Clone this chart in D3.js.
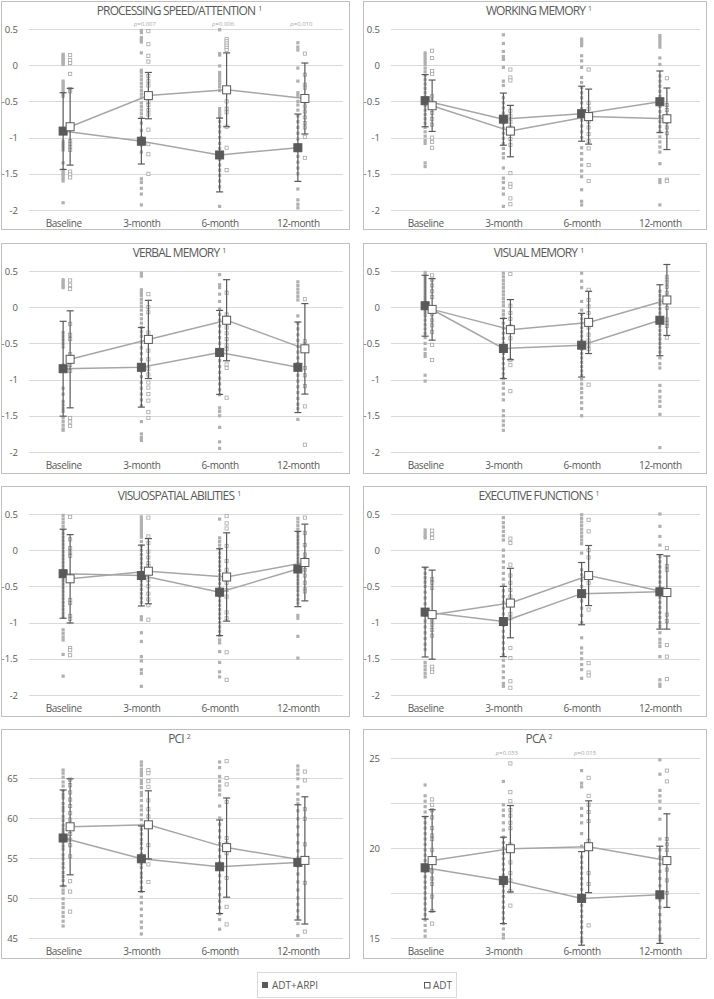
<!DOCTYPE html>
<html>
<head>
<meta charset="utf-8">
<script src="https://cdn.jsdelivr.net/npm/d3@7"></script>
<style>
  body { margin: 0; background: #fff; }
  text { font-family: "Open Sans", sans-serif; fill: #595959; }
</style>
</head>
<body>
<svg id="chart" width="714" height="999"></svg>
<script>
var times = ["Baseline", "3-month", "6-month", "12-month"];

// processing speed / attention
var psMeanArpi = [-0.91, -1.05, -1.24, -1.14];
var psSdArpi = [0.53, 0.315, 0.51, 0.465];
var psMeanAdt = [-0.85, -0.42, -0.34, -0.46];
var psSdAdt = [0.53, 0.32, 0.51, 0.49];
var psDotsArpi = [
  [0.15, 0.13, 0.11, 0.09, 0.07, 0.05, 0.03, 0.01, -0.22, -0.25, -0.28, -0.31, -0.34, -0.37, -0.4, -0.43, -1.05, -1.08, -1.11, -1.14, -1.17, -1.35, -1.45, -1.48, -1.51, -1.54, -1.57, -1.6, -1.9],
  [0.48, 0.45, 0.38, 0.35, 0.32, 0.17, -0.07, -0.1, -0.15, -0.2, -0.25, -0.3, -0.35, -0.4, -0.45, -0.52, -0.57, -0.62, -0.67, -0.72, -0.8, -0.9, -1.0, -1.1, -1.2, -1.57, -1.62, -1.7, -1.78, -1.93],
  [0.49, 0.16, 0.14, -0.01, -0.1, -0.14, -0.18, -0.22, -0.26, -0.3, -0.35, -0.6, -0.64, -0.68, -0.72, -0.78, -0.85, -0.92, -1.0, -1.08, -1.15, -1.22, -1.3, -1.38, -1.45, -1.52, -1.6, -1.68, -1.95],
  [0.31, 0.25, 0.21, -0.04, -0.22, -0.38, -0.42, -0.5, -0.55, -0.62, -0.7, -0.78, -0.86, -0.94, -1.02, -1.1, -1.18, -1.26, -1.34, -1.42, -1.5, -1.71, -1.86, -1.92, -1.97]
];
var psDotsAdt = [
  [0.14, 0.07, 0.03, -0.12, -0.33, -0.36, -1.05, -1.09, -1.13, -1.17, -1.47, -1.51, -1.55],
  [0.47, 0.29, 0.13, 0.05, -0.15, -0.22, -0.28, -0.5, -0.55, -0.62, -0.68, -0.89, -1.09, -1.23, -1.5],
  [0.36, 0.33, 0.3, 0.27, 0.24, 0.21, -0.5, -0.6, -0.65, -0.85, -1.14, -1.45],
  [0.16, -0.13, -0.27, -0.31, -0.5, -0.57, -0.64, -0.72, -0.8, -0.86, -0.99, -1.28]
];
var psPvals = ["", "p=0.007", "p=0.006", "p=0.010"];

// working memory
var wmMeanArpi = [-0.49, -0.745, -0.67, -0.505];
var wmSdArpi = [0.36, 0.36, 0.38, 0.425];
var wmMeanAdt = [-0.56, -0.91, -0.71, -0.74];
var wmSdAdt = [0.355, 0.355, 0.38, 0.425];
var wmDotsArpi = [
  [0.17, 0.13, 0.09, 0.05, 0.01, -0.04, -0.09, -0.14, -0.2, -0.26, -0.32, -0.38, -0.44, -0.5, -0.56, -0.62, -0.68, -0.74, -0.8, -0.86, -0.92, -0.98, -1.04, -1.08, -1.35, -1.4],
  [0.42, 0.3, 0.19, 0.12, 0.08, -0.03, -0.22, -0.28, -0.45, -0.52, -0.59, -0.66, -0.73, -0.8, -0.87, -0.94, -1.01, -1.08, -1.15, -1.22, -1.28, -1.42, -1.56, -1.62, -1.7, -1.78, -1.95],
  [0.36, 0.33, 0.3, 0.27, 0.13, 0.06, -0.03, -0.17, -0.24, -0.31, -0.38, -0.45, -0.52, -0.6, -0.68, -0.76, -0.84, -0.92, -1.0, -1.14, -1.22, -1.3, -1.38, -1.46, -1.54, -1.72, -1.88, -1.93],
  [0.41, 0.37, 0.33, 0.29, 0.25, 0.1, 0.01, -0.15, -0.22, -0.29, -0.36, -0.43, -0.5, -0.57, -0.64, -0.71, -0.78, -0.85, -0.92, -0.99, -1.06, -1.13, -1.2, -1.36, -1.58, -1.62, -1.93]
];
var wmDotsAdt = [
  [0.2, 0.1, -0.08, -0.12, -0.43, -0.5, -0.58, -0.66, -0.74, -0.82, -1.0, -1.06, -1.14],
  [-0.06, -0.17, -0.21, -0.63, -0.7, -0.78, -0.86, -0.94, -1.02, -1.1, -1.49, -1.64, -1.68, -1.84, -1.92],
  [-0.06, -0.52, -0.6, -0.68, -0.78, -0.86, -0.95, -1.05, -1.15, -1.38, -1.6],
  [-0.18, -0.55, -0.62, -0.7, -0.78, -0.86, -0.94, -1.58, -1.6]
];

// verbal memory
var vbMeanArpi = [-0.85, -0.83, -0.625, -0.83];
var vbSdArpi = [0.655, 0.55, 0.58, 0.625];
var vbMeanAdt = [-0.72, -0.445, -0.18, -0.575];
var vbSdAdt = [0.67, 0.54, 0.56, 0.625];
var vbDotsArpi = [
  [0.38, 0.35, 0.32, 0.29, 0.27, -0.35, -0.4, -0.45, -0.5, -0.55, -0.8, -1.12, -1.2, -1.3, -1.35, -1.4, -1.44, -1.53, -1.58, -1.63, -1.68, -1.7],
  [0.47, 0.43, 0.24, 0.2, 0.16, 0.11, 0.06, 0.01, -0.04, -0.1, -0.16, -0.22, -0.28, -0.34, -0.4, -0.48, -0.56, -0.64, -0.72, -0.8, -0.88, -0.96, -1.04, -1.12, -1.2, -1.28, -1.36, -1.58, -1.75, -1.8, -1.84],
  [0.45, 0.31, 0.27, 0.18, 0.08, -0.02, -0.1, -0.18, -0.26, -0.34, -0.42, -0.5, -0.58, -0.66, -0.74, -0.82, -0.9, -0.98, -1.06, -1.14, -1.21, -1.39, -1.44, -1.5, -1.66, -1.86, -1.95],
  [0.35, 0.3, 0.25, 0.2, 0.15, 0.1, -0.12, -0.22, -0.3, -0.38, -0.46, -0.54, -0.62, -0.7, -0.78, -0.86, -0.94, -1.02, -1.1, -1.18, -1.26, -1.34, -1.4, -1.55]
];
var vbDotsAdt = [
  [0.37, 0.31, 0.25, -0.23, -0.38, -0.44, -0.65, -0.72, -0.8, -0.88, -1.53, -1.58, -1.64],
  [0.18, 0.0, -0.07, -0.35, -0.48, -0.6, -0.72, -0.85, -0.93, -1.04, -1.11, -1.2, -1.29, -1.45, -1.53],
  [0.2, -0.1, -0.2, -0.28, -0.36, -0.44, -0.52, -0.58, -0.79, -0.84, -1.25],
  [0.11, -0.47, -0.52, -0.58, -0.84, -0.94, -1.09, -1.37, -1.9]
];

// visual memory
var vsMeanArpi = [0.02, -0.57, -0.525, -0.18];
var vsSdArpi = [0.42, 0.415, 0.44, 0.49];
var vsMeanAdt = [-0.03, -0.31, -0.21, 0.1];
var vsSdAdt = [0.425, 0.415, 0.43, 0.49];
var vsDotsArpi = [
  [0.48, 0.44, 0.4, 0.36, 0.32, 0.28, 0.24, 0.2, 0.16, 0.12, 0.08, 0.04, 0.0, -0.04, -0.08, -0.12, -0.18, -0.24, -0.3, -0.36, -0.42, -0.5, -0.58, -0.64, -0.68, -0.94, -1.02],
  [0.47, 0.42, 0.37, 0.32, 0.27, 0.22, 0.17, 0.12, 0.07, 0.02, -0.05, -0.1, -0.15, -0.22, -0.29, -0.36, -0.43, -0.5, -0.57, -0.64, -0.71, -0.78, -0.85, -0.92, -0.98, -1.05, -1.12, -1.2, -1.28, -1.43, -1.5, -1.57, -1.63, -1.7],
  [0.47, 0.36, 0.27, 0.08, -0.04, -0.1, -0.16, -0.22, -0.28, -0.34, -0.4, -0.46, -0.52, -0.58, -0.64, -0.7, -0.76, -0.82, -0.88, -0.94, -1.0, -1.06, -1.12, -1.18, -1.25, -1.32, -1.4, -1.5],
  [0.22, 0.16, 0.1, 0.04, -0.02, -0.08, -0.14, -0.2, -0.26, -0.32, -0.38, -0.44, -0.5, -0.56, -0.62, -0.7, -0.78, -0.84, -1.08, -1.16, -1.24, -1.3, -1.37, -1.48, -1.94]
];
var vsDotsAdt = [
  [0.44, 0.38, 0.3, 0.22, 0.14, -0.1, -0.18, -0.25, -0.34, -0.52, -0.73],
  [0.46, 0.02, -0.08, -0.16, -0.26, -0.34, -0.43, -0.73, -0.8, -1.16],
  [0.24, 0.1, 0.01, -0.08, -0.28, -0.38, -0.46, -0.52, -0.58, -1.07],
  [0.42, 0.38, 0.34, 0.28, 0.2, 0.08, -0.01, -0.17, -0.22, -0.26, -0.42]
];

// visuospatial abilities
var vaMeanArpi = [-0.325, -0.35, -0.58, -0.26];
var vaSdArpi = [0.615, 0.42, 0.6, 0.52];
var vaMeanAdt = [-0.395, -0.29, -0.37, -0.17];
var vaSdAdt = [0.61, 0.45, 0.61, 0.53];
var vaDotsArpi = [
  [0.48, 0.43, 0.38, 0.33, 0.28, 0.23, 0.18, 0.13, 0.08, 0.03, -0.02, -0.07, -0.12, -0.17, -0.22, -0.27, -0.32, -0.37, -0.42, -0.47, -0.52, -0.57, -0.62, -0.67, -0.72, -0.77, -0.82, -0.87, -0.92, -1.1, -1.15, -1.2, -1.24, -1.44, -1.74],
  [0.46, 0.42, 0.38, 0.34, 0.3, 0.26, 0.22, 0.18, 0.12, 0.06, 0.0, -0.06, -0.12, -0.18, -0.24, -0.3, -0.36, -0.42, -0.48, -0.54, -0.6, -0.66, -0.72, -0.92, -0.96, -1.14, -1.26, -1.47, -1.53, -1.65, -1.7, -1.88],
  [0.43, 0.17, 0.12, 0.07, 0.02, -0.04, -0.1, -0.16, -0.22, -0.28, -0.34, -0.4, -0.46, -0.52, -0.58, -0.64, -0.7, -0.76, -0.82, -0.88, -0.94, -1.0, -1.06, -1.12, -1.18, -1.24, -1.28, -1.4, -1.55, -1.68, -1.75],
  [0.44, 0.39, 0.34, 0.29, 0.24, 0.19, 0.14, 0.09, 0.04, -0.01, -0.06, -0.11, -0.16, -0.21, -0.26, -0.31, -0.36, -0.41, -0.46, -0.51, -0.56, -0.62, -0.68, -0.73, -0.9, -0.94, -1.19, -1.49]
];
var vaDotsAdt = [
  [0.46, 0.15, 0.03, -0.03, -0.08, -0.69, -0.73, -0.91, -0.95, -1.35, -1.38, -1.45],
  [0.45, 0.19, 0.1, -0.02, -0.1, -0.18, -0.22, -0.41, -0.5, -0.6, -0.68, -0.76, -0.96],
  [0.47, 0.37, 0.3, 0.06, -0.15, -0.27, -0.35, -0.45, -0.55, -0.64, -0.86, -0.94, -1.41, -1.79],
  [0.45, 0.24, 0.07, -0.06, -0.12, -0.18, -0.27, -0.35, -0.45, -0.54, -0.57]
];

// executive functions
var efMeanArpi = [-0.855, -0.985, -0.6, -0.575];
var efSdArpi = [0.62, 0.485, 0.43, 0.515];
var efMeanAdt = [-0.89, -0.73, -0.35, -0.585];
var efSdAdt = [0.615, 0.48, 0.415, 0.505];
var efDotsArpi = [
  [0.28, 0.24, 0.2, 0.17, -0.25, -0.32, -0.38, -0.44, -0.5, -0.58, -0.66, -0.74, -0.82, -0.9, -0.98, -1.06, -1.14, -1.22, -1.3, -1.37, -1.55, -1.6, -1.65, -1.7, -1.75],
  [0.45, 0.38, 0.32, 0.26, 0.2, 0.14, 0.0, -0.08, -0.16, -0.24, -0.32, -0.4, -0.48, -0.56, -0.64, -0.72, -0.8, -0.88, -0.96, -1.04, -1.12, -1.2, -1.28, -1.36, -1.44, -1.52, -1.6, -1.68, -1.76, -1.84, -1.88],
  [0.49, 0.44, 0.39, 0.34, 0.29, 0.24, 0.19, 0.14, 0.09, -0.04, -0.27, -0.34, -0.41, -0.5, -0.6, -0.7, -0.8, -0.9, -1.0, -1.21, -1.35, -1.42, -1.5, -1.58, -1.65, -1.77],
  [0.5, 0.33, 0.19, 0.07, -0.09, -0.16, -0.23, -0.3, -0.37, -0.44, -0.51, -0.58, -0.65, -0.72, -0.79, -0.86, -0.93, -1.0, -1.05, -1.14, -1.23, -1.28, -1.33, -1.47, -1.79, -1.85, -1.88]
];
var efDotsAdt = [
  [0.27, 0.22, 0.17, -0.4, -0.45, -0.52, -0.97, -1.03, -1.1, -1.18, -1.61, -1.65, -1.68],
  [0.16, 0.1, -0.2, -0.35, -0.45, -0.55, -0.64, -0.88, -0.94, -1.35, -1.49, -1.81, -1.9],
  [0.42, 0.26, 0.0, -0.1, -0.45, -0.82, -1.56, -1.69, -1.73],
  [0.03, -0.22, -0.27, -0.59, -0.89, -0.98, -1.31, -1.47, -1.78]
];

// PCI
var pciMeanArpi = [57.5, 54.9, 53.9, 54.45];
var pciSdArpi = [6.0, 4.1, 5.85, 7.2];
var pciMeanAdt = [58.9, 59.15, 56.3, 54.7];
var pciSdAdt = [6.0, 4.25, 6.2, 7.95];
var pciDotsArpi = [
  [66, 65.6, 65.1, 64.5, 64, 63.4, 62.9, 62.5, 61.8, 61.3, 60.9, 60.2, 59.7, 59.1, 58.6, 58.2, 57.6, 57, 56.5, 56.1, 55.4, 54.9, 54.3, 53.8, 53.2, 52.7, 52.2, 51.5, 51, 50.6, 49.9, 49.3, 48.8, 48.2, 47.7, 47.1, 46.5],
  [67, 66.6, 66.1, 65.7, 65.3, 64.7, 64.3, 63.8, 63.2, 62.8, 62.2, 61.5, 61, 60.4, 59.8, 59.1, 58.6, 58, 57.3, 56.8, 56.2, 55.5, 55, 54.3, 53.8, 53.1, 52.6, 52, 51.3, 50.8, 50.1, 49.4, 48.6, 47.8, 47, 46.3, 45.5],
  [67, 66.3, 65.2, 64.6, 64, 63.5, 62.9, 61.5, 60, 59.2, 58.4, 57.6, 56.8, 56, 55.2, 54.4, 53.6, 52.8, 52, 51.2, 50.4, 49.6, 48.8, 48, 47.3, 46.1],
  [66.5, 66, 65.5, 64.9, 63.9, 63, 62.3, 61.8, 60.9, 59.9, 58.9, 57.9, 56.9, 55.9, 55, 54, 53, 52, 51, 50, 49.2, 48.4, 47.6, 46.8, 45.3]
];
var pciDotsAdt = [
  [64.8, 64.1, 63.2, 62.3, 61.5, 60.6, 59.8, 58.9, 58.0, 57.3, 56.6, 55.2, 52.1, 50.8, 48.3],
  [66, 65.6, 64.6, 63.9, 62.2, 61.1, 60.2, 59.3, 56.6, 54.2, 52],
  [67.1, 65, 64.2, 62, 57.5, 56.8, 55.6, 52.5, 48.9, 46.7],
  [65.8, 64.7, 61.1, 59.9, 56.7, 51.9, 45.8]
];

// PCA
var pcaMeanArpi = [18.9, 18.2, 17.2, 17.4];
var pcaSdArpi = [2.85, 2.4, 2.6, 2.7];
var pcaMeanAdt = [19.3, 19.96, 20.07, 19.3];
var pcaSdAdt = [2.83, 2.4, 2.55, 2.6];
var pcaDotsArpi = [
  [23.5, 22.9, 22.6, 22.3, 22, 21.7, 21.4, 21.1, 20.8, 20.5, 20.2, 19.9, 19.6, 19.3, 19, 18.7, 18.4, 18.1, 17.8, 17.5, 17.2, 16.9, 16.6, 16.3, 16, 15.7, 15.4, 15.1],
  [23.7, 22.4, 22.1, 21.8, 21.4, 21, 20.6, 20.3, 20, 19.7, 19.4, 19.1, 18.8, 18.5, 18.2, 17.9, 17.6, 17.3, 17, 16.7, 16.4, 16.1, 15.8, 15.5, 15.2, 15],
  [24.3, 23.6, 23.4, 22.2, 21.8, 21.4, 20.8, 20.1, 19.5, 19.2, 18.9, 18.6, 18.3, 18, 17.7, 17.4, 17.1, 16.8, 16.5, 16.2, 15.9, 15.6, 15.3, 15, 14.8],
  [24.9, 24.1, 23.2, 22.9, 22.6, 22.2, 21.6, 20.5, 19.9, 19.5, 19.1, 18.7, 18.3, 17.9, 17.5, 17.1, 16.7, 16.3, 15.9, 15.5, 15.1, 14.9]
];
var pcaDotsAdt = [
  [22.7, 22.4, 22.1, 21.7, 21.1, 20.7, 20.5, 19.9, 19.2, 18.7, 18.3, 18, 17.3, 16.5, 15.8],
  [24.7, 23.1, 22.6, 22.1, 21.8, 21.4, 21.1, 20.2, 19.2, 18.6, 18.2, 17.6, 16.8],
  [23.9, 22.9, 22.4, 22, 21.5, 20.4, 20.2, 18.6, 18, 15.7],
  [24.3, 23.7, 20.5, 20.2, 19.9, 18.8, 18.2, 17.5]
];
var pcaPvals = ["", "p=0.033", "p=0.015", ""];

var zTicks = [-2, -1.5, -1, -0.5, 0, 0.5];
var pciTicks = [45, 50, 55, 60, 65];
var pcaTicks = [15, 17.5, 20, 22.5, 25];
var pcaLabels = [15, 20, 25];

var noP = ["", "", "", ""];

var panels = [
  { title: "PROCESSING SPEED/ATTENTION", sup: "1", dom: [-2, 0.5], ticks: zTicks, labels: zTicks, top: 28, mA: psMeanArpi, sA: psSdArpi, mD: psMeanAdt, sD: psSdAdt, dA: psDotsArpi, dD: psDotsAdt, p: psPvals },
  { title: "WORKING MEMORY", sup: "1", dom: [-2, 0.5], ticks: zTicks, labels: zTicks, top: 28, mA: wmMeanArpi, sA: wmSdArpi, mD: wmMeanAdt, sD: wmSdAdt, dA: wmDotsArpi, dD: wmDotsAdt, p: noP },
  { title: "VERBAL MEMORY", sup: "1", dom: [-2, 0.5], ticks: zTicks, labels: zTicks, top: 28, mA: vbMeanArpi, sA: vbSdArpi, mD: vbMeanAdt, sD: vbSdAdt, dA: vbDotsArpi, dD: vbDotsAdt, p: noP },
  { title: "VISUAL MEMORY", sup: "1", dom: [-2, 0.5], ticks: zTicks, labels: zTicks, top: 28, mA: vsMeanArpi, sA: vsSdArpi, mD: vsMeanAdt, sD: vsSdAdt, dA: vsDotsArpi, dD: vsDotsAdt, p: noP },
  { title: "VISUOSPATIAL ABILITIES", sup: "1", dom: [-2, 0.5], ticks: zTicks, labels: zTicks, top: 28, mA: vaMeanArpi, sA: vaSdArpi, mD: vaMeanAdt, sD: vaSdAdt, dA: vaDotsArpi, dD: vaDotsAdt, p: noP },
  { title: "EXECUTIVE FUNCTIONS", sup: "1", dom: [-2, 0.5], ticks: zTicks, labels: zTicks, top: 28, mA: efMeanArpi, sA: efSdArpi, mD: efMeanAdt, sD: efSdAdt, dA: efDotsArpi, dD: efDotsAdt, p: noP },
  { title: "PCI", sup: "2", dom: [45, 65], ticks: pciTicks, labels: pciTicks, top: 49, mA: pciMeanArpi, sA: pciSdArpi, mD: pciMeanAdt, sD: pciSdAdt, dA: pciDotsArpi, dD: pciDotsAdt, p: noP },
  { title: "PCA", sup: "2", dom: [15, 25], ticks: pcaTicks, labels: pcaLabels, top: 29, mA: pcaMeanArpi, sA: pcaSdArpi, mD: pcaMeanAdt, sD: pcaSdAdt, dA: pcaDotsArpi, dD: pcaDotsAdt, p: pcaPvals }
];

var svg = d3.select("#chart");
var colX = [1, 363], colW = [349, 344];
var rowY = [1, 243, 486, 729], rowH = [229, 231, 231, 230];

var grey = "#595959", light = "#a6a6a6";

var x = d3.scaleBand().domain(times).range([26.5, 339.5]);
var off = 3.5;

panels.forEach(function (p, i) {
  var c = i % 2, r = Math.floor(i / 2);
  var w = colW[c], h = rowH[r];
  var g = svg.append("g").attr("transform", "translate(" + colX[c] + "," + rowY[r] + ")");
  var y = d3.scaleLinear().domain(p.dom).range([209, p.top]);

  g.append("rect")
    .attr("x", 0.5).attr("y", 0.5)
    .attr("width", w - 1).attr("height", h - 1)
    .attr("fill", "#fff").attr("stroke", "#bfbfbf");

  // title
  var t = g.append("text")
    .attr("x", w / 2 + 4).attr("y", 14)
    .attr("text-anchor", "middle")
    .style("font-size", "12px")
    .style("letter-spacing", "-0.85px");
  t.append("tspan").text(p.title);
  t.append("tspan").attr("dx", 3).attr("dy", -4).style("font-size", "7px").style("letter-spacing", "0").text(p.sup);

  // grid
  g.append("g").selectAll("line")
    .data(p.ticks).enter().append("line")
    .attr("x1", 28).attr("x2", w - 7)
    .attr("y1", function (d) { return Math.round(y(d)) + 0.5; })
    .attr("y2", function (d) { return Math.round(y(d)) + 0.5; })
    .attr("stroke", "#d9d9d9").attr("stroke-width", 1);

  g.append("g").selectAll("text")
    .data(p.labels).enter().append("text")
    .attr("x", 17)
    .attr("y", function (d) { return y(d) + 3.5; })
    .attr("text-anchor", "end")
    .style("font-size", "9.5px")
    .text(function (d) { return d; });

  // category labels
  g.append("g").selectAll("text")
    .data(times).enter().append("text")
    .attr("x", function (d) { return x(d) + x.bandwidth() / 2 - 3; })
    .attr("y", 226)
    .attr("text-anchor", "middle")
    .style("font-size", "10px")
    .style("letter-spacing", "-0.4px")
    .text(function (d) { return d; });

  // p values
  g.append("g").selectAll("text")
    .data(times).enter().append("text")
    .attr("x", function (d) { return x(d) + x.bandwidth() / 2; })
    .attr("y", p.top - 3)
    .attr("text-anchor", "middle")
    .style("font-size", "6px")
    .style("fill", light)
    .each(function (d, k) {
      if (!p.p[k]) return;
      d3.select(this).append("tspan").style("font-style", "italic").text("p");
      d3.select(this).append("tspan").text(p.p[k].slice(1));
    });

  // individual dots
  times.forEach(function (tm, k) {
    var cx = x(tm) + x.bandwidth() / 2;
    g.append("g").selectAll("rect")
      .data(p.dA[k]).enter().append("rect")
      .attr("x", cx - off - 1.6)
      .attr("y", function (d) { return y(d) - 1.6; })
      .attr("width", 3.2).attr("height", 3.2)
      .attr("fill", "#b0b0b0");
    g.append("g").selectAll("rect")
      .data(p.dD[k]).enter().append("rect")
      .attr("x", cx + off - 1.6)
      .attr("y", function (d) { return y(d) - 1.6; })
      .attr("width", 3.2).attr("height", 3.2)
      .attr("fill", "#fff").attr("stroke", "#a6a6a6").attr("stroke-width", 0.8);
  });

  // lines between means
  var lineA = d3.line()
    .x(function (d, k) { return x(times[k]) + x.bandwidth() / 2 - off; })
    .y(function (d) { return y(d); });
  var lineD = d3.line()
    .x(function (d, k) { return x(times[k]) + x.bandwidth() / 2 + off; })
    .y(function (d) { return y(d); });
  g.append("path").datum(p.mA).attr("d", lineA)
    .attr("fill", "none").attr("stroke", light).attr("stroke-width", 1.5);
  g.append("path").datum(p.mD).attr("d", lineD)
    .attr("fill", "none").attr("stroke", light).attr("stroke-width", 1.5);

  // error bars + means
  [{ m: p.mA, s: p.sA, o: -off, fill: grey }, { m: p.mD, s: p.sD, o: off, fill: "#fff" }].forEach(function (s) {
    var eb = g.append("g").selectAll("g")
      .data(s.m).enter().append("g")
      .attr("transform", function (d, k) { return "translate(" + (x(times[k]) + x.bandwidth() / 2 + s.o) + ",0)"; });
    eb.append("line")
      .attr("x1", 0).attr("x2", 0)
      .attr("y1", function (d, k) { return y(d + s.s[k]); })
      .attr("y2", function (d, k) { return y(d - s.s[k]); })
      .attr("stroke", grey).attr("stroke-width", 1.2);
    eb.append("line")
      .attr("x1", -3.5).attr("x2", 3.5)
      .attr("y1", function (d, k) { return y(d + s.s[k]); })
      .attr("y2", function (d, k) { return y(d + s.s[k]); })
      .attr("stroke", grey).attr("stroke-width", 1.2);
    eb.append("line")
      .attr("x1", -3.5).attr("x2", 3.5)
      .attr("y1", function (d, k) { return y(d - s.s[k]); })
      .attr("y2", function (d, k) { return y(d - s.s[k]); })
      .attr("stroke", grey).attr("stroke-width", 1.2);
    eb.append("rect")
      .attr("x", -4)
      .attr("y", function (d) { return y(d) - 4; })
      .attr("width", 8).attr("height", 8)
      .attr("fill", s.fill).attr("stroke", grey).attr("stroke-width", 1);
  });
});

// legend
var leg = svg.append("g").attr("transform", "translate(257,972)");
leg.append("rect").attr("x", 0.5).attr("y", 0.5).attr("width", 199).attr("height", 25)
  .attr("fill", "#fff").attr("stroke", "#d9d9d9");
leg.append("rect").attr("x", 5).attr("y", 10).attr("width", 6).attr("height", 6).attr("fill", grey);
leg.append("text").attr("x", 15).attr("y", 17).style("font-size", "10px").text("ADT+ARPI");
leg.append("rect").attr("x", 167.5).attr("y", 10.5).attr("width", 5.5).attr("height", 5.5)
  .attr("fill", "#fff").attr("stroke", grey);
leg.append("text").attr("x", 176).attr("y", 17).style("font-size", "10px").text("ADT");
</script>
</body>
</html>
